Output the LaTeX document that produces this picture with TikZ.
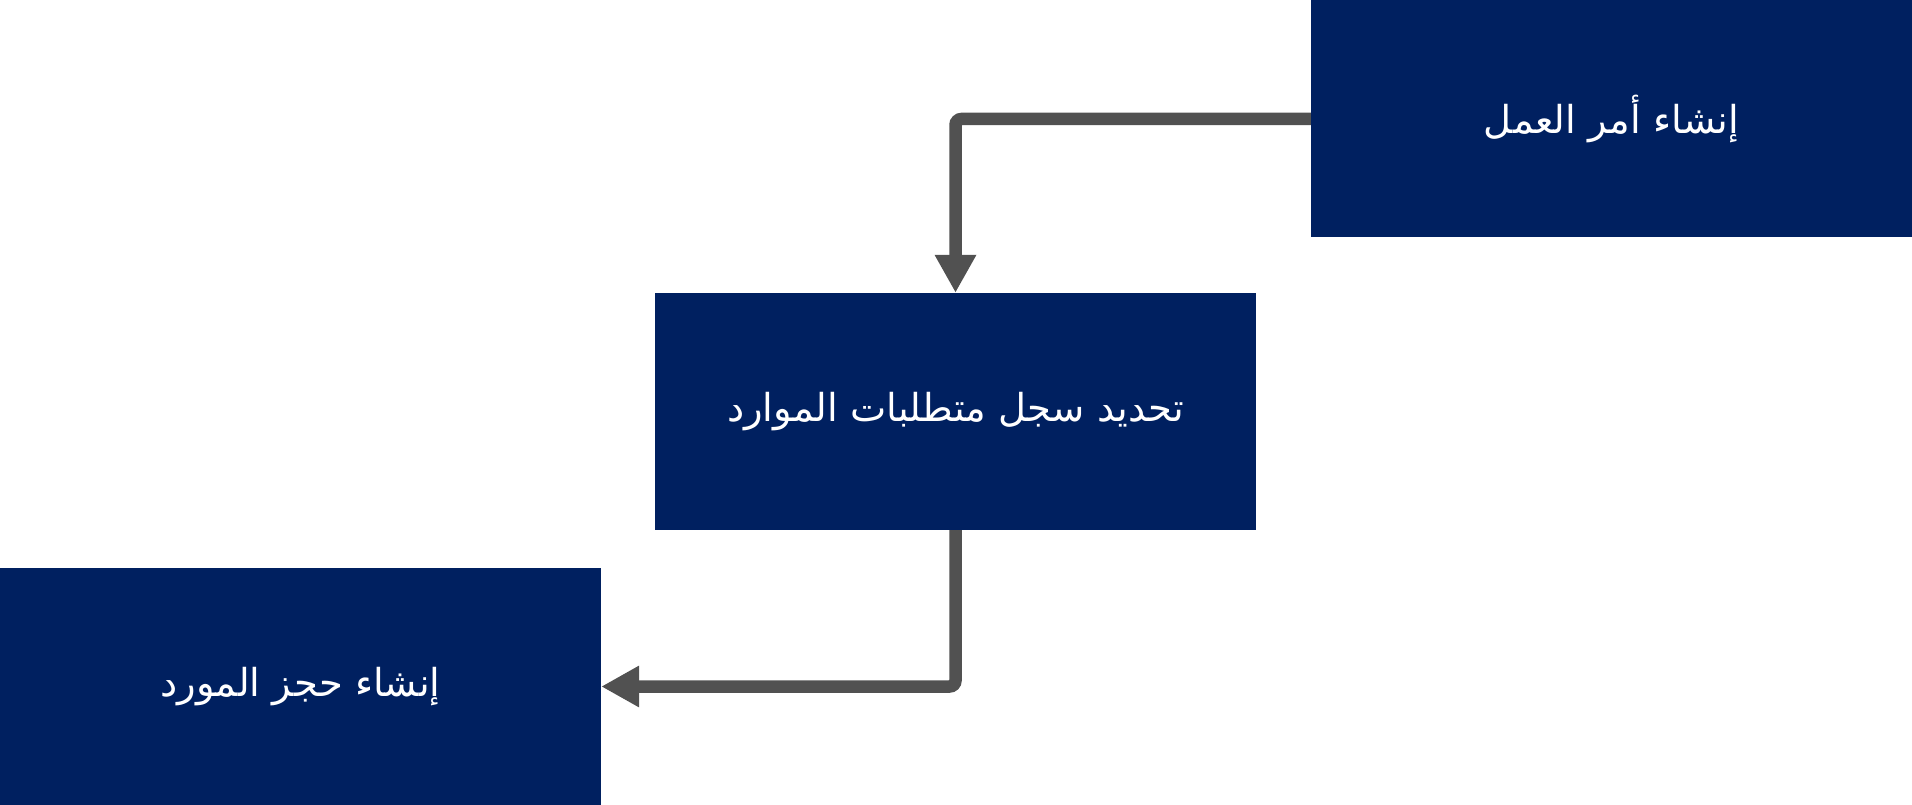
\documentclass[tikz,border=0pt]{standalone}
\usepackage{fontspec}
\usetikzlibrary{arrows.meta}
\TeXXeTstate=1
\newfontfamily\arabicfont[Script=Arabic]{DejaVu Sans}
\definecolor{boxblue}{HTML}{002060}
\definecolor{linegray}{HTML}{515151}
\tikzset{
  stepbox/.style={rectangle, fill=boxblue, draw=none, inner sep=0pt,
    minimum width=601pt, minimum height=237pt, text=white,
    font=\arabicfont\fontsize{38.5}{46}\selectfont},
  flowline/.style={draw=linegray, line width=12.5pt, rounded corners=6pt,
    -{Triangle[width=39pt,length=38pt]}}
}
\begin{document}
\begin{tikzpicture}[x=1pt,y=1pt]
\useasboundingbox (0,0) rectangle (1912,-805);
\node[stepbox] (a) at (1611.5,-119) {\beginR إنشاء أمر العمل\endR};
\node[stepbox] (b) at (955.5,-411.5) {\beginR تحديد سجل متطلبات الموارد\endR};
\node[stepbox] (c) at (300.5,-686.5) {\beginR إنشاء حجز المورد\endR};
\draw[flowline] (a.west) -| (b.north);
\draw[flowline] (b.south) |- (c.east);
\end{tikzpicture}
\end{document}
